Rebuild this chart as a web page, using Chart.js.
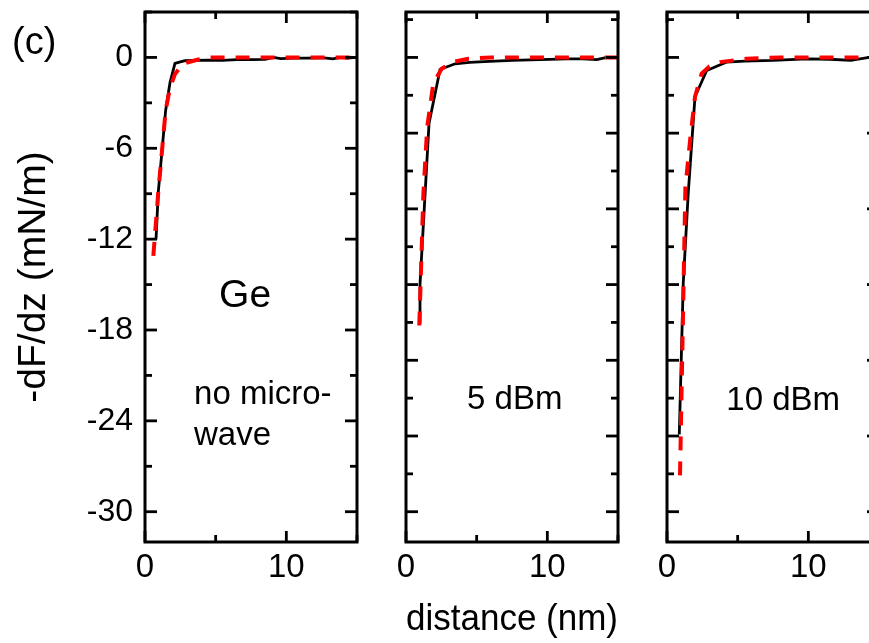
<!DOCTYPE html>
<html>
<head>
<meta charset="utf-8">
<title>-dF/dz vs distance</title>
<script src="https://cdn.jsdelivr.net/npm/chart.js@4.4.1/dist/chart.umd.min.js"></script>
<style>
  html, body { margin: 0; padding: 0; background: #fff; overflow: hidden; }
  #figure { position: relative; width: 869px; height: 643px; overflow: hidden; }
  #figure canvas { position: absolute; left: 0; top: 0; }
  #tag {
    position: absolute; left: 12px; top: 22px;
    font: 38px "Liberation Sans", Arial, sans-serif; line-height: 1;
  }
</style>
</head>
<body>
<div id="figure">
  <canvas id="pGe" width="900" height="643"></canvas>
  <canvas id="p5" width="900" height="643"></canvas>
  <canvas id="p10" width="900" height="643"></canvas>
  <div id="tag">(c)</div>
</div>
<script>
// Ge, no microwave
const geMeasX = [0.78, 0.94, 1.46, 1.77, 2.12, 2.5, 2.83, 3.5, 4.5, 5.5, 6.5, 7.5, 8.5, 9.1, 9.6, 10.5, 11.5, 12.5, 13.3, 13.8, 14.3, 15];
const geMeasY = [-12.0, -8.9, -3.5, -1.65, -0.4, -0.3, -0.22, -0.2, -0.18, -0.2, -0.15, -0.15, -0.13, 0, -0.08, -0.05, -0.05, -0.02, -0.1, 0, -0.05, 0];
const geFitX = [0.59, 0.94, 1.46, 1.77, 2.12, 2.71, 3.7, 4.6, 6, 8, 10, 12, 15];
const geFitY = [-13.1, -8.9, -3.5, -2.0, -1.1, -0.4, -0.15, 0, 0, 0, 0, 0, 0];

// 5 dBm
const mw5MeasX = [0.92, 0.99, 1.63, 2.41, 3.47, 4.5, 5.9, 7.5, 9.5, 11.4, 12.5, 13.5, 14.2, 15];
const mw5MeasY = [-17.5, -15.0, -4.35, -0.8, -0.42, -0.32, -0.26, -0.2, -0.15, -0.09, -0.1, -0.15, 0, 0];
const mw5FitX = [0.94, 1.23, 1.5, 1.93, 2.52, 3.3, 4.4, 6, 9, 12, 15];
const mw5FitY = [-17.7, -9.0, -4.6, -1.73, -0.75, -0.31, -0.09, 0, 0, 0, 0];

// 10 dBm
const mw10MeasX = [0.87, 1.15, 1.5, 1.98, 2.81, 4.2, 5.5, 7.5, 9.9, 11.5, 13, 14.3, 15];
const mw10MeasY = [-24.9, -14.9, -9.0, -2.6, -0.86, -0.31, -0.25, -0.2, -0.09, -0.12, -0.2, 0, 0];
const mw10FitX = [0.92, 1.3, 1.63, 1.98, 2.45, 3.0, 3.75, 5.6, 8, 11, 15];
const mw10FitY = [-27.6, -8.6, -5.5, -2.6, -1.07, -0.6, -0.31, -0.09, 0, 0, 0];

// axis ranges and ticks
const xRange = [0, 15];
const yRange = [-32, 3];
const xTicks = [0, 5, 10, 15];
const xLabels = [0, 10];
const yTicksGe = [-30, -27, -24, -21, -18, -15, -12, -9, -6, -3, 0, 3];
const yLabelsGe = [-30, -24, -18, -12, -6, 0];
const yTicksMw = [-30, -27.5, -25, -22.5, -20, -17.5, -15, -12.5, -10, -7.5, -5, -2.5, 0, 2.5];
const yMajorMw = [-30, -25, -20, -15, -10, -5, 0];

const FONT = '"Liberation Sans", Arial, sans-serif';

function pts(xs, ys) {
  return xs.map((x, i) => ({ x: x, y: ys[i] }));
}

// frame, inward tick marks on all four sides, and in-panel labels
const frameTicks = {
  id: 'frameTicks',
  afterDatasetsDraw(chart, args, opts) {
    const { ctx, chartArea: a, scales } = chart;
    const seg = (x1, y1, x2, y2) => {
      ctx.beginPath();
      ctx.moveTo(x1, y1);
      ctx.lineTo(x2, y2);
      ctx.stroke();
    };
    ctx.save();
    ctx.strokeStyle = '#000';
    ctx.lineWidth = 2.8;
    opts.xTicks.forEach(v => {
      const px = scales.x.getPixelForValue(v);
      const len = opts.xMajor.includes(v) ? 11 : 7;
      seg(px, a.bottom, px, a.bottom - len);
      seg(px, a.top, px, a.top + len);
    });
    opts.yTicks.forEach(v => {
      const py = scales.y.getPixelForValue(v);
      const len = opts.yMajor.includes(v) ? 12 : 7;
      seg(a.left, py, a.left + len, py);
      seg(a.right, py, a.right - len, py);
    });
    ctx.lineWidth = 3;
    ctx.strokeRect(a.left, a.top, a.right - a.left, a.bottom - a.top);

    ctx.fillStyle = '#000';
    (opts.notes || []).forEach(n => {
      ctx.font = n.size + 'px ' + FONT;
      ctx.textAlign = n.align;
      ctx.textBaseline = n.baseline;
      ctx.fillText(n.text, scales.x.getPixelForValue(n.x), scales.y.getPixelForValue(n.y));
    });
    ctx.restore();
  }
};

function makePanel(id, cfg) {
  const axisWidth = cfg.yLabels ? 145 : 0;
  new Chart(document.getElementById(id), {
    type: 'scatter',
    data: {
      datasets: [
        {
          data: pts(cfg.fitX, cfg.fitY),
          showLine: true,
          borderColor: '#ff0000',
          borderWidth: 4,
          borderDash: [14, 11],
          pointRadius: 0,
          tension: 0
        },
        {
          data: pts(cfg.measX, cfg.measY),
          showLine: true,
          borderColor: '#000',
          borderWidth: 2.8,
          pointRadius: 0,
          tension: 0
        }
      ]
    },
    options: {
      responsive: false,
      animation: false,
      events: [],
      layout: { padding: { left: cfg.left - axisWidth, right: 900 - cfg.right, top: 12, bottom: 0 } },
      plugins: {
        legend: { display: false },
        tooltip: { enabled: false },
        frameTicks: {
          xTicks: xTicks, xMajor: xLabels,
          yTicks: cfg.yTicks, yMajor: cfg.yMajor,
          notes: cfg.notes
        }
      },
      scales: {
        x: {
          type: 'linear',
          position: 'bottom',
          min: xRange[0],
          max: xRange[1],
          grid: { display: false, drawTicks: false },
          border: { display: false },
          afterBuildTicks: s => { s.ticks = xLabels.map(v => ({ value: v })); },
          ticks: {
            autoSkip: false,
            maxRotation: 0,
            padding: 6,
            color: '#000',
            font: { family: FONT, size: 33 }
          },
          title: {
            display: !!cfg.xTitle,
            text: cfg.xTitle || '',
            color: '#000',
            font: { family: FONT, size: 37 },
            padding: { top: 0, bottom: 1 }
          },
          afterFit: s => {
            s.height = 101;
            s.paddingLeft = 0;
            s.paddingRight = 0;
          }
        },
        y: {
          type: 'linear',
          position: 'left',
          min: yRange[0],
          max: yRange[1],
          grid: { display: false, drawTicks: false },
          border: { display: false },
          afterBuildTicks: s => { s.ticks = (cfg.yLabels || []).map(v => ({ value: v })); },
          ticks: {
            display: !!cfg.yLabels,
            autoSkip: false,
            padding: 12,
            color: '#000',
            font: { family: FONT, size: 32 }
          },
          title: {
            display: !!cfg.yTitle,
            text: cfg.yTitle || '',
            color: '#000',
            font: { family: FONT, size: 39 },
            padding: { top: 11, bottom: 0 }
          },
          afterFit: s => {
            s.width = axisWidth;
            s.paddingTop = 0;
            s.paddingBottom = 0;
          }
        }
      }
    },
    plugins: [frameTicks]
  });
}

makePanel('pGe', {
  left: 145, right: 357,
  measX: geMeasX, measY: geMeasY, fitX: geFitX, fitY: geFitY,
  yTicks: yTicksGe, yMajor: yLabelsGe, yLabels: yLabelsGe,
  yTitle: '-dF/dz (mN/m)',
  notes: [
    { text: 'Ge', x: 7.08, y: -15.8, size: 39, align: 'center', baseline: 'middle' },
    { text: 'no micro-', x: 3.47, y: -22.9, size: 33, align: 'left', baseline: 'alphabetic' },
    { text: 'wave', x: 3.47, y: -25.6, size: 33, align: 'left', baseline: 'alphabetic' }
  ]
});

makePanel('p5', {
  left: 406, right: 618,
  measX: mw5MeasX, measY: mw5MeasY, fitX: mw5FitX, fitY: mw5FitY,
  yTicks: yTicksMw, yMajor: yMajorMw,
  xTitle: 'distance (nm)',
  notes: [
    { text: '5 dBm', x: 4.32, y: -23.2, size: 33, align: 'left', baseline: 'alphabetic' }
  ]
});

makePanel('p10', {
  left: 667, right: 879,
  measX: mw10MeasX, measY: mw10MeasY, fitX: mw10FitX, fitY: mw10FitY,
  yTicks: yTicksMw, yMajor: yMajorMw,
  notes: [
    { text: '10 dBm', x: 4.2, y: -23.3, size: 33, align: 'left', baseline: 'alphabetic' }
  ]
});
</script>
</body>
</html>
